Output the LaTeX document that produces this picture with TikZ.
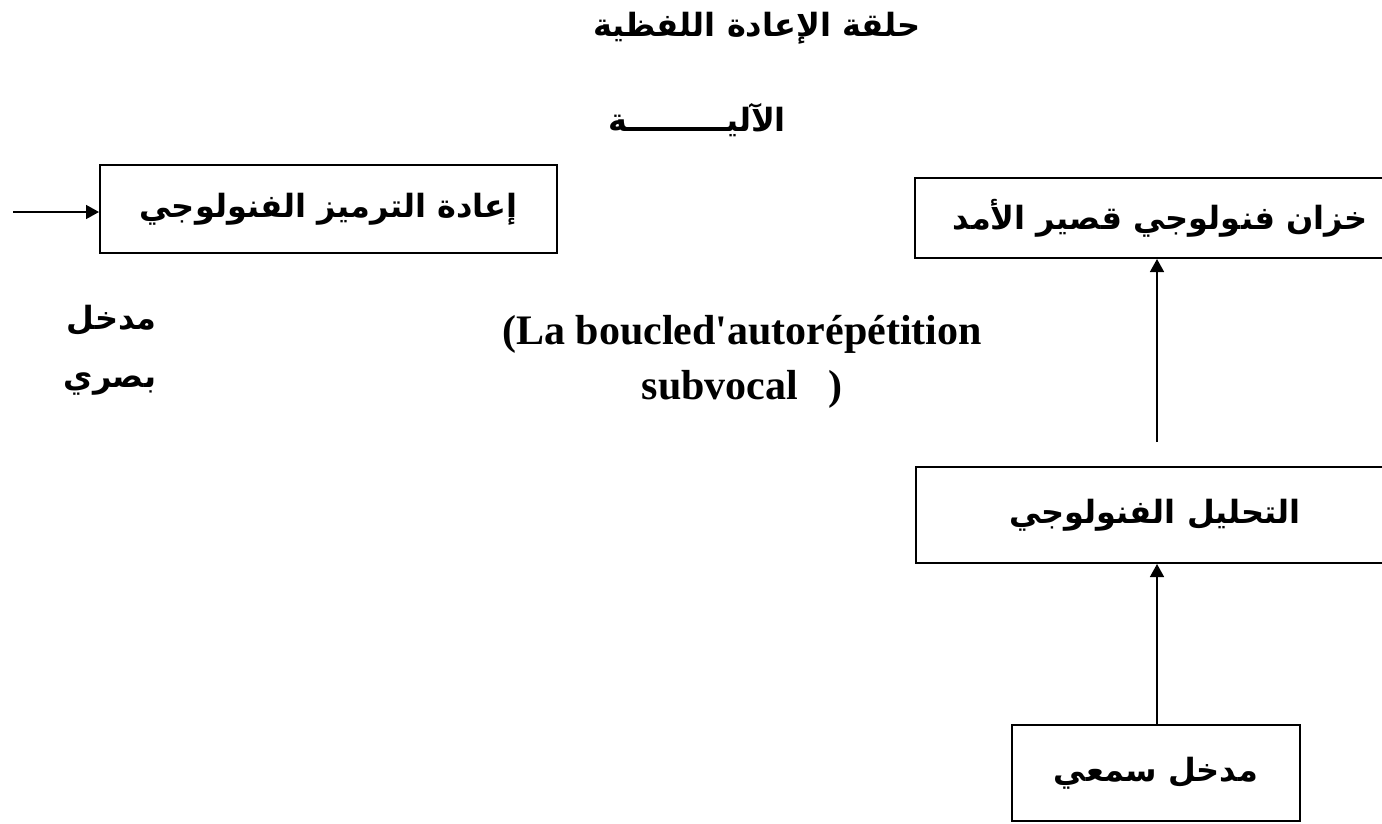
\documentclass[tikz,border=0pt]{standalone}
\usepackage{fontspec}
\setmainfont{Liberation Serif}
\newfontfamily\frfont[Ligatures=TeXOff]{Liberation Serif}
\newfontfamily\arabicfont[Script=Arabic]{DejaVu Sans}
\TeXXeTstate=1
\usetikzlibrary{arrows.meta}

\tikzset{
  boite/.style={draw, line width=2pt, inner sep=0pt},
  fleche/.style={-{Triangle[length=13pt,width=14pt]}, line width=1.6pt},
  arabe/.style={font=\arabicfont\bfseries\fontsize{32}{58}\selectfont},
}

\begin{document}
\begin{tikzpicture}[x=1pt, y=-1pt]

  \useasboundingbox (0,0) rectangle (1382,823);
  \clip (0,0) rectangle (1382,823);

  % --- titres ---
  \node[arabe] (titre) at (757,28) {\beginR حلقة الإعادة اللفظية\endR};
  \node[arabe] (mecanisme) at (697,120) {\beginR الآليـــــــــة\endR};

  % --- boucle (gauche) ---
  \node[boite, arabe, minimum width=457pt, minimum height=88pt] (recodage) at (328.5,209) {\beginR إعادة الترميز الفنولوجي\endR};
  \coordinate (visuel) at (13,212);
  \draw[fleche] (visuel) -- (visuel -| recodage.west);
  \node[arabe, align=right, anchor=east] (entreevis) at (160,350) {\beginR مدخل\endR\\ \beginR بصري\endR};

  % --- texte francais ---
  \node[font=\frfont\bfseries\fontsize{42}{55}\selectfont, align=center] (boucle) at (742,362)
    {(La boucled'autorépétition\\ subvocal\hspace{30pt})};

  % --- colonne de droite ---
  \node[boite, arabe, minimum width=490pt, minimum height=80pt] (stockage) at (1160,218) {\beginR خزان فنولوجي قصير الأمد\endR};
  \node[boite, arabe, minimum width=478pt, minimum height=96pt] (analyse) at (1155,515) {\beginR التحليل الفنولوجي\endR};
  \node[boite, arabe, minimum width=288pt, minimum height=96pt] (entreeaud) at (1156,773) {\beginR مدخل سمعي\endR};

  % --- fleches ---
  \coordinate (depart) at (1157,442);
  \draw[fleche] (depart) -- (depart |- stockage.south);
  \draw[fleche] (entreeaud.north -| depart) -- (analyse.south -| depart);

\end{tikzpicture}
\end{document}
